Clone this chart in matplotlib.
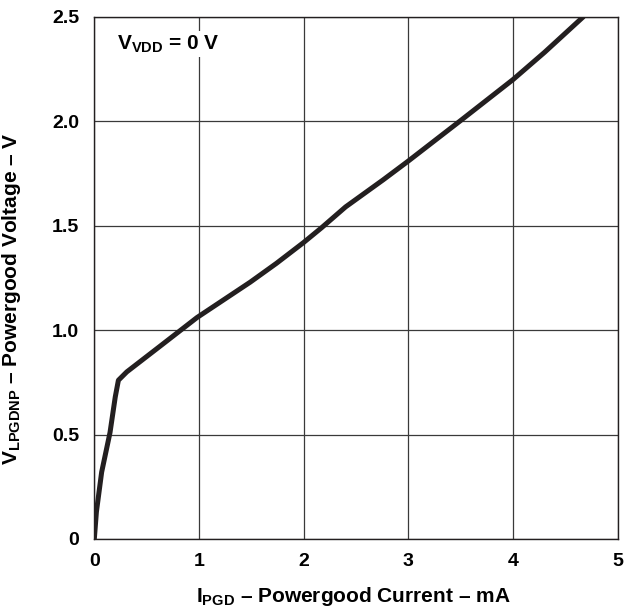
import matplotlib
matplotlib.use("Agg")
import matplotlib.pyplot as plt

plt.rcParams['font.family'] = ['Liberation Sans', 'DejaVu Sans']
plt.rcParams['font.weight'] = 'bold'
plt.rcParams['mathtext.fontset'] = 'custom'
plt.rcParams['mathtext.rm'] = 'Liberation Sans:bold'
plt.rcParams['mathtext.bf'] = 'Liberation Sans:bold'
plt.rcParams['mathtext.it'] = 'Liberation Sans:bold'

# powergood current (mA) vs voltage (V)
i_pgd = [0, 0.02, 0.07, 0.15, 0.20, 0.23, 0.31, 0.62, 0.98, 1.25, 1.49, 1.74,
         2.00, 2.17, 2.40, 2.76, 3.00, 3.49, 4.00, 4.30, 4.67]
v_pgd = [0, 0.13, 0.32, 0.51, 0.68, 0.76, 0.80, 0.92, 1.06, 1.15, 1.23, 1.32,
         1.42, 1.49, 1.59, 1.72, 1.81, 2.00, 2.20, 2.33, 2.50]

xticks = [0, 1, 2, 3, 4, 5]
yticks = [0, 0.5, 1.0, 1.5, 2.0, 2.5]
ytick_labels = ['0', '0.5', '1.0', '1.5', '2.0', '2.5']

fig = plt.figure(figsize=(6.33, 6.10), dpi=100)
ax = fig.add_axes([0.149, 0.1164, 0.827, 0.856])

ax.plot(i_pgd, v_pgd, color='#231f20', lw=3.6, solid_capstyle='round',
        solid_joinstyle='round', zorder=3)

ax.set_xlim(0, 5)
ax.set_ylim(0, 2.5)
ax.set_xticks(xticks)
ax.set_yticks(yticks)
ax.set_yticklabels(ytick_labels)
ax.tick_params(length=0, labelsize=14)
ax.tick_params(axis='y', pad=11)
ax.tick_params(axis='x', pad=10)
ax.grid(True, color='#3a3a3a', lw=0.9)
for s in ax.spines.values():
    s.set_linewidth(1.0)
    s.set_color('#231f20')

ax.set_xlabel(r'$\mathrm{I_{PGD}}$ – Powergood Current – mA', fontsize=15, fontweight='bold')
ax.set_ylabel(r'$\mathrm{V_{LPGDNP}}$ – Powergood Voltage – V', fontsize=15, fontweight='bold')
ax.xaxis.set_label_coords(0.495, -0.088)
ax.yaxis.set_label_coords(-0.137, 0.46)

ax.text(0.22, 2.37, r'$\mathrm{V_{VDD}}$ = 0 V', fontsize=15, fontweight='bold',
        va='center', ha='left', zorder=4,
        bbox=dict(facecolor='white', edgecolor='none', pad=2))

fig.savefig('out.png', dpi=100)
